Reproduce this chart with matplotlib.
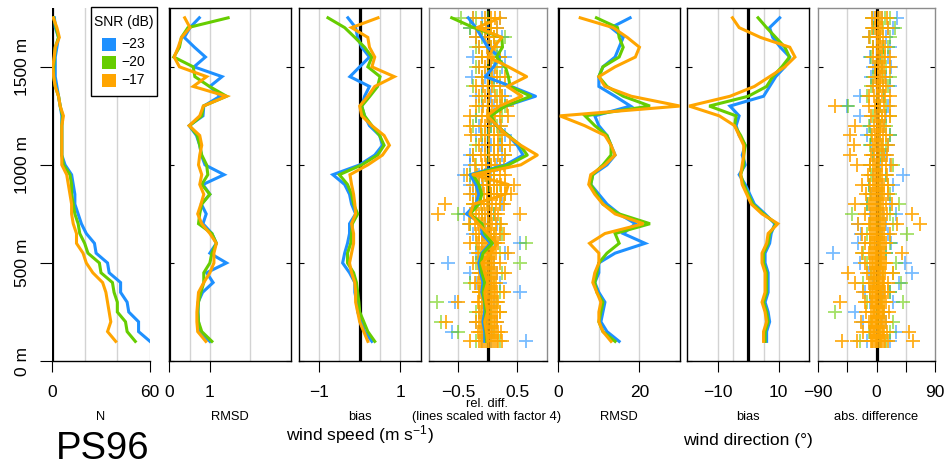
import matplotlib
matplotlib.use("Agg")
import matplotlib.pyplot as plt
from matplotlib.patches import Rectangle

plt.rcParams['font.family'] = ['Liberation Sans', 'DejaVu Sans']
plt.rcParams['mathtext.fontset'] = 'custom'
plt.rcParams['mathtext.rm'] = 'Liberation Sans'
plt.rcParams['mathtext.it'] = 'Liberation Sans:italic'
plt.rcParams['mathtext.bf'] = 'Liberation Sans:bold'

# ---------------- data ----------------
heights = [100, 150, 200, 250, 300, 350, 400, 450, 500, 550, 600, 650, 700, 750, 800, 850, 900,
           950, 1000, 1050, 1100, 1150, 1200, 1250, 1300, 1350, 1400, 1450, 1500, 1550, 1600,
           1650, 1700, 1750]
snr_labels = ["\u221223", "\u221220", "\u221217"]
colors = ["#1E90FF", "#66CD00", "#FFA500"]

# N (number of samples)
n_m23 = [60, 53, 53, 47, 46, 42, 42, 35, 34, 27, 26, 21, 18, 16, 14, 14, 13, 12, 8, 6, 6, 6, 6, 6, 5, 4, 3, 2, 2, 2, 3, 4, 2, 1.5]
n_m20 = [51, 46, 45, 40, 40, 38, 37, 30, 29, 22, 20, 17, 16, 14, 13, 12, 12, 11, 7, 6, 6, 6, 6, 6.5, 5, 4, 2, 1, 1, 1.5, 2, 4, 2.5, 1]
n_m17 = [39, 34, 36, 35, 34, 33, 31, 25, 21, 19, 15, 15, 13, 12, 12, 11, 10, 9, 6, 6, 6, 6, 6, 7, 5, 4, 2, 1, 0.5, 1.3, 2, 4.5, 3, 0.8]

# wind speed RMSD (m/s)
ws_rmsd_m23 = [1.0, 0.75, 0.72, 0.71, 0.71, 0.82, 1.08, 0.92, 1.41, 1.0, 1.16, 1.05, 0.83, 0.91, 0.79, 1.0, 0.83,
               1.35, 0.88, 0.79, 0.75, 0.67, 0.49, 0.83, 0.85, 1.25, 1.0, 1.30, 0.61, 0.89, 0.62, 0.37, 0.51, 0.74]
ws_rmsd_m20 = [1.05, 0.8, 0.72, 0.7, 0.72, 0.78, 0.85, 0.85, 1.0, 1.05, 1.16, 1.05, 0.72, 0.75, 0.8, 1.0, 0.8,
               0.95, 0.92, 0.8, 0.75, 0.69, 0.5, 0.8, 0.84, 1.41, 0.99, 0.63, 0.59, 0.11, 0.25, 0.3, 0.46, 1.45]
ws_rmsd_m17 = [0.9, 0.7, 0.68, 0.68, 0.7, 0.72, 0.85, 1.0, 1.1, 1.1, 1.16, 1.0, 0.8, 0.7, 0.78, 0.85, 0.75,
               0.8, 0.72, 0.75, 0.8, 0.75, 0.49, 0.75, 0.84, 1.41, 0.59, 0.92, 0.25, 0.12, 0.22, 0.3, 0.51, 0.38]

# wind speed bias (m/s)
ws_bias_m23 = [0.3, 0.12, 0.05, -0.05, -0.07, -0.12, -0.12, -0.25, -0.42, -0.37, -0.3, -0.25, -0.25, -0.1, -0.2,
               -0.25, -0.37, -0.66, 0.0, 0.37, 0.56, 0.49, 0.24, 0.12, 0.05, 0.12, 0.24, -0.24, 0.0, 0.24, 0.05,
               -0.05, -0.1, -0.29]
ws_bias_m20 = [0.37, 0.2, 0.1, 0.0, -0.02, -0.05, -0.08, -0.15, -0.3, -0.3, -0.22, -0.2, -0.18, -0.05, -0.15,
               -0.2, -0.3, -0.5, 0.05, 0.44, 0.6, 0.49, 0.3, 0.12, 0.05, 0.25, 0.44, 0.5, 0.2, 0.3, 0.12,
               -0.12, -0.37, -0.78]
ws_bias_m17 = [0.2, 0.1, 0.0, -0.05, -0.1, -0.1, -0.12, -0.2, -0.25, -0.2, -0.15, -0.15, -0.2, -0.1, -0.12,
               -0.15, -0.2, -0.24, 0.2, 0.56, 0.73, 0.6, 0.3, 0.05, 0.0, 0.2, 0.37, 0.85, 0.3, 0.37, 0.24,
               0.2, -0.2, 0.45]

# wind speed relative difference (lines scaled with factor 4)
ws_rel_m23 = [-0.05, -0.05, -0.08, -0.05, -0.05, -0.1, -0.08, -0.12, -0.15, -0.1, 0.05, -0.1, -0.1, -0.36, -0.2,
              -0.15, -0.2, -0.3, 0.3, 0.6, 0.5, 0.35, 0.15, 0.0, 0.3, 0.81, 0.4, -0.04, 0.1, 0.2, 0.0, -0.1,
              -0.2, -0.33]
ws_rel_m20 = [-0.02, -0.03, -0.05, -0.03, -0.05, -0.08, -0.05, -0.1, -0.12, -0.08, 0.08, -0.05, -0.1, -0.3, -0.15,
              -0.1, -0.15, -0.25, 0.35, 0.67, 0.55, 0.35, 0.15, 0.05, 0.3, 0.73, 0.38, 0.35, 0.3, 0.15, 0.25,
              0.24, -0.24, -0.61]
ws_rel_m17 = [0.0, -0.02, -0.05, 0.0, -0.03, -0.05, 0.0, -0.05, -0.1, 0.05, 0.16, 0.0, -0.16, -0.3, -0.24,
              0.3, 0.35, -0.25, 0.56, 0.84, 0.56, 0.33, 0.16, -0.01, 0.2, 0.58, 0.33, 0.66, 0.35, 0.01, 0.1,
              0.24, -0.18, 0.21]

# individual relative differences (crosses), one row per height
ws_relx_m23 = [[-0.1, 0.05, 0.65], [-0.6, -0.1, 0.08], [-0.2, 0.0, 0.15], [-0.15, 0.05], [-0.55, -0.1, 0.1],
               [-0.1, 0.0, 0.55], [-0.2, 0.05, 0.2], [-0.3, 0.0, 0.15], [-0.67, -0.1, 0.1], [-0.2, 0.05, 0.3],
               [-0.1, 0.1, 0.55], [-0.25, 0.0, 0.2], [-0.3, -0.05, 0.15], [-0.4, -0.1, 0.1], [-0.2, 0.0, 0.25],
               [-0.25, 0.05, 0.15], [-0.3, -0.1, 0.1], [-0.4, -0.15, 0.05], [-0.3, 0.0, 0.15], [-0.3, 0.1, 0.25],
               [-0.1, 0.05, 0.2], [-0.2, 0.0, 0.3], [-0.15, 0.05, 0.2], [-0.2, 0.0, 0.1], [-0.1, 0.1, 0.2],
               [-0.2, 0.05, 0.3], [-0.1, 0.0, 0.2], [-0.27, -0.05, 0.1], [-0.15, 0.05, 0.25], [-0.25, 0.15, 0.3],
               [-0.15, 0.0, 0.1], [-0.2, -0.05, 0.25], [-0.3, 0.0, 0.15], [-0.25, -0.1, 0.2]]
ws_relx_m20 = [[-0.2, 0.0, 0.2], [-0.5, -0.05, 0.1], [-0.8, -0.1, 0.05], [-0.2, 0.05, 0.2], [-0.86, -0.05, 0.15],
               [-0.15, 0.05, 0.2], [-0.3, 0.0, 0.1], [-0.1, 0.05, 0.25], [-0.2, 0.0, 0.55], [-0.15, 0.05, 0.2],
               [-0.2, 0.0, 0.65], [-0.1, 0.1, 0.25], [-0.3, 0.0, 0.2], [-0.5, -0.1, 0.1], [-0.25, 0.0, 0.2],
               [-0.2, 0.05, 0.3], [-0.15, 0.0, 0.2], [-0.3, -0.05, 0.1], [-0.2, 0.05, 0.2], [-0.25, 0.0, 0.3],
               [-0.2, 0.1, 0.25], [-0.1, 0.0, 0.2], [-0.25, 0.05, 0.15], [-0.2, 0.1, 0.25], [-0.15, 0.0, 0.3],
               [-0.1, 0.15, 0.25], [-0.25, 0.0, 0.1], [-0.1, 0.05, 0.2], [-0.2, 0.0, 0.15], [-0.1, 0.1, 0.2],
               [-0.2, 0.05, 0.15], [-0.1, 0.1, 0.3], [-0.3, -0.1, 0.05], [-0.45, -0.2, 0.0]]
ws_relx_m17 = [[-0.3, -0.15, -0.12, -0.09, -0.06, -0.03, 0.0, 0.03, 0.06, 0.09, 0.12, 0.15, 0.18, 0.25],
               [-0.16, -0.13, -0.1, -0.07, -0.04, -0.01, 0.02, 0.05, 0.08, 0.11, 0.14, 0.17, 0.22],
               [-0.7, -0.2, -0.14, -0.11, -0.08, -0.05, -0.02, 0.01, 0.04, 0.07, 0.1, 0.13, 0.16],
               [-0.15, -0.12, -0.09, -0.06, -0.03, 0.0, 0.03, 0.06, 0.09, 0.12, 0.15, 0.2],
               [-0.5, -0.17, -0.14, -0.1, -0.07, -0.04, -0.01, 0.02, 0.05, 0.08, 0.11, 0.14, 0.17],
               [-0.14, -0.11, -0.08, -0.05, -0.02, 0.01, 0.04, 0.07, 0.1, 0.13, 0.16, 0.28],
               [-0.22, -0.16, -0.13, -0.1, -0.07, -0.04, -0.01, 0.02, 0.05, 0.08, 0.11, 0.14],
               [-0.15, -0.12, -0.09, -0.06, -0.03, 0.0, 0.03, 0.06, 0.09, 0.12, 0.15, 0.3],
               [-0.25, -0.17, -0.13, -0.1, -0.07, -0.04, -0.01, 0.02, 0.05, 0.08, 0.11, 0.2],
               [-0.16, -0.12, -0.08, -0.05, -0.02, 0.01, 0.04, 0.07, 0.1, 0.14, 0.35],
               [-0.3, -0.18, -0.14, -0.1, -0.06, -0.03, 0.0, 0.04, 0.08, 0.12, 0.17],
               [-0.2, -0.14, -0.1, -0.06, -0.02, 0.02, 0.06, 0.1, 0.14, 0.2, 0.28],
               [-0.32, -0.22, -0.17, -0.12, -0.08, -0.04, 0.0, 0.04, 0.08, 0.14, 0.22],
               [-0.85, -0.3, -0.2, -0.14, -0.09, -0.04, 0.01, 0.06, 0.12, 0.18, 0.55],
               [-0.72, -0.25, -0.18, -0.12, -0.07, -0.02, 0.03, 0.08, 0.14, 0.2, 0.28],
               [-0.3, -0.2, -0.13, -0.07, -0.01, 0.05, 0.1, 0.16, 0.22, 0.3, 0.4],
               [-0.25, -0.15, -0.08, -0.02, 0.04, 0.1, 0.16, 0.22, 0.3, 0.45],
               [-0.35, -0.18, -0.1, -0.03, 0.04, 0.1, 0.2, 0.3],
               [-0.22, -0.1, -0.03, 0.05, 0.12, 0.2, 0.28],
               [-0.25, -0.12, -0.04, 0.03, 0.1, 0.18, 0.3],
               [-0.15, -0.05, 0.03, 0.1, 0.18, 0.25, 0.38],
               [-0.28, -0.12, -0.04, 0.03, 0.1, 0.18, 0.25],
               [-0.3, -0.12, -0.04, 0.03, 0.1, 0.22],
               [-0.3, -0.1, -0.02, 0.05, 0.12, 0.2, 0.35],
               [-0.2, -0.08, 0.0, 0.08, 0.15, 0.22, 0.32],
               [-0.15, -0.05, 0.03, 0.12, 0.2, 0.25],
               [-0.2, -0.08, 0.0, 0.08, 0.2],
               [-0.1, 0.0, 0.08, 0.15, 0.3],
               [-0.15, -0.05, 0.05, 0.12],
               [-0.1, 0.0, 0.08, 0.2],
               [-0.15, -0.02, 0.06, 0.12],
               [-0.2, -0.05, 0.03, 0.1],
               [-0.12, -0.03, 0.06, 0.15],
               [-0.25, -0.05, 0.05, 0.12, 0.2]]

# wind direction RMSD (deg)
wd_rmsd_m23 = [15, 12, 10.5, 11, 11.5, 10, 9, 10, 10, 14, 21.4, 16, 19, 15, 12, 10, 8, 8.5, 12, 14, 13, 12, 10,
               9, 17.8, 14, 10, 10, 11, 14, 15, 16, 13, 17.7]
wd_rmsd_m20 = [14, 11, 10, 10.5, 11, 9.5, 9, 9.5, 10, 12, 15, 14, 22.6, 15, 11, 9.5, 8, 8.5, 11, 13, 13, 12, 9,
               6.6, 22.6, 16, 12, 10, 11, 15, 16, 15, 14.6, 9.4]
wd_rmsd_m17 = [13, 11, 10, 10, 10.5, 9.5, 8.5, 9, 10, 10, 7.7, 11.5, 21, 14, 11, 9, 7.5, 8, 11.5, 14, 13, 11.5,
               6.5, 0.4, 30, 18, 11.5, 10, 14, 19, 20, 17, 13.5, 5.4]

# wind direction bias (deg)
wd_bias_m23 = [6, 6, 7, 6.5, 5.5, 6.5, 6.5, 6.5, 5.5, 5.5, 7, 7.5, 8.7, 5.5, 2, 0.5, -1, -3, -1, -2, -1, -3, -4,
               -3, -6, 5, 7, 9, 12, 13.6, 10.5, 8, 7, 10.3]
wd_bias_m20 = [5.5, 5.5, 6.5, 6, 5, 6, 6, 6, 5, 5, 6.5, 7, 9.2, 5, 1.5, 0, -1.5, -2.5, -1.5, -1.5, -1, -2.5,
               -4.5, -4, -12.8, 0, 6, 8, 11, 13.5, 12, 9, 6, 3.2]
wd_bias_m17 = [5, 5, 6, 5.5, 4.5, 5.5, 5.5, 5.5, 4.5, 4.5, 6, 6.5, 9.7, 4.5, 1, -0.5, -2, -2.5, -2, -1.5, -1.5,
               -3, -4.5, -9.5, -19.4, -6, 2, 7, 12, 15.3, 13.6, 4, -3, -5.2]

# individual absolute wind direction differences (crosses), one row per height
wd_absx_m23 = [[-15, 5, 20], [-10, 0, 30], [-20, 8, 15], [-33, 0, 12], [-10, 5, 25], [-18, 10, 20],
               [-5, 10, 34], [-12, 5, 54], [-25, 0, 44], [-66, 5, 15], [-28, 0, 22], [-23, 8, 18], [-28, 5, 15],
               [-10, 10, 30], [-15, 0, 20], [-8, 5, 18], [-12, 8, 25], [-5, 15, 40], [-10, 5, 20], [-5, 8, 15],
               [-8, 3, 18], [-15, 5, 20], [-10, 5, 12], [-25, 0, 15], [-45, 5, 18], [-25, 3, 12], [-5, 10, 20],
               [-8, 5, 15], [-5, 8, 22], [-10, 6, 18], [-5, 10, 20], [-12, 5, 15], [-6, 18, 25], [-5, 8, 31]]
wd_absx_m20 = [[-25, 5, 15], [-12, 5, 20], [-8, 3, 25], [-63, 0, 10], [-15, 8, 41], [-10, 5, 20],
               [-20, 0, 38], [-8, 10, 25], [-15, 5, 30], [-20, 0, 15], [-10, 5, 20], [-15, 5, 46], [-10, 0, 25],
               [-38, 5, 20], [-15, 5, 35], [-10, 8, 20], [-12, 3, 18], [-8, 5, 15], [-10, 3, 25], [-5, 5, 12],
               [-10, 8, 15], [-8, 3, 20], [-12, 5, 15], [-6, 8, 20], [-43, 5, 15], [-15, 0, 12], [-8, 5, 18],
               [-5, 10, 20], [-3, 8, 15], [-8, 5, 12], [-5, 10, 18], [-10, 6, 20], [-5, 10, 28], [-7, 13, 20]]
wd_absx_m17 = [[-53, -30, -9, -7, -5, -3, -1, 1, 3, 5, 7, 9, 11, 13, 18, 56],
               [-20, -10, -8, -6, -4, -2, 0, 2, 4, 6, 8, 10, 12, 16, 49],
               [-24, -12, -9, -7, -5, -3, -1, 1, 3, 5, 7, 9, 11, 14],
               [-16, -8, -6, -4, -2, 0, 2, 4, 6, 8, 10, 12, 19],
               [-56, -17, -9, -7, -5, -3, -1, 1, 3, 5, 7, 9, 11, 14],
               [-20, -10, -7, -5, -3, -1, 1, 3, 5, 7, 9, 11, 13, 18],
               [-33, -12, -8, -6, -4, -2, 0, 2, 4, 6, 8, 10, 12, 17],
               [-43, -14, -9, -6, -4, -2, 0, 2, 4, 6, 8, 10, 13, 25],
               [-18, -10, -7, -5, -3, -1, 1, 3, 5, 7, 9, 12, 15],
               [-22, -11, -8, -5, -3, -1, 1, 3, 5, 7, 9, 12, 39],
               [-18, -10, -7, -4, -2, 0, 2, 4, 6, 9, 12, 15],
               [-22, -10, -7, -4, -1, 1, 3, 6, 9, 12, 20],
               [-28, -12, -8, -5, -2, 1, 4, 7, 10, 13, 31, 67],
               [-17, -9, -6, -3, 0, 3, 6, 9, 12, 16, 54],
               [-33, -12, -8, -5, -2, 1, 4, 7, 10, 14, 24],
               [-16, -9, -6, -3, 0, 3, 6, 9, 12, 17],
               [-22, -10, -6, -3, 0, 3, 6, 9, 12, 18],
               [-13, -6, -3, 0, 3, 6, 9, 16],
               [-30, -10, -5, -2, 1, 4, 8, 14, 22],
               [-40, -8, -4, 0, 4, 8, 12, 16],
               [-35, -5, -2, 1, 4, 7, 10, 18],
               [-40, -7, -3, 0, 3, 6, 10, 15],
               [-33, -4, 0, 3, 6, 9, 12],
               [-8, -3, 1, 4, 8, 13, 20],
               [-64, -12, -2, 2, 6, 12, 21],
               [-12, -4, 0, 4, 8, 13, 20],
               [-5, 0, 3, 6, 10, 15],
               [-3, 2, 5, 8, 13],
               [-3, 2, 5, 8, 12, 21],
               [-5, 0, 4, 8, 13, 21],
               [-5, 0, 3, 6, 9, 13],
               [-12, 0, 3, 6, 10],
               [-7, -2, 2, 5, 9, 18],
               [-7, -2, 2, 5, 9, 16]]

# ---------------- figure ----------------
W, H = 949, 471
fig = plt.figure(figsize=(W / 100, H / 100), dpi=100)

Y_TOP, Y_BOT = 8, 361


def add_panel(x0, x1):
    return fig.add_axes([x0 / W, 1 - Y_BOT / H, (x1 - x0) / W, (Y_BOT - Y_TOP) / H])


panels = [
    dict(x=(52, 150), xlim=(0, 60), grid=[20, 40, 60], ticks=[0, 60], labels=["0", "60"]),
    dict(x=(169.3, 291), xlim=(0, 3), grid=[0.5, 1, 2], ticks=[0, 1], labels=["0", "1"]),
    dict(x=(298.7, 420.7), xlim=(-1.5, 1.5), grid=[-1, -0.5, 0.5, 1], ticks=[-1, 1], labels=["\u22121", "1"]),
    dict(x=(428.7, 546.7), xlim=(-1, 1), grid=[-0.5, 0.5], ticks=[-0.5, 0.5], labels=["\u22120.5", "0.5"]),
    dict(x=(558.3, 680), xlim=(0, 30), grid=[10, 20], ticks=[0, 20], labels=["0", "20"]),
    dict(x=(687.3, 809.3), xlim=(-20, 20), grid=[-10, -5, 5, 10], ticks=[-10, 10], labels=["\u221210", "10"]),
    dict(x=(817.7, 935.3), xlim=(-90, 90), grid=[-45, 45], ticks=[-90, -45, 0, 45, 90],
         labels=["\u221290", "", "0", "", "90"]),
]

axes = []
for i, p in enumerate(panels):
    ax = add_panel(*p["x"])
    ax.set_xlim(*p["xlim"])
    ax.set_ylim(0, 1800)
    for g in p["grid"]:
        ax.axvline(g, color="#D3D3D3", lw=1.0, zorder=1)
    ax.axvline(0, color="black", lw=2.3, zorder=2)
    ax.set_xticks(p["ticks"])
    ax.set_xticklabels(p["labels"])
    ax.tick_params(axis="x", direction="out", length=8, width=0.8, pad=9, labelsize=12.5)
    ax.set_yticks([0, 500, 1000, 1500])
    if i == 0:
        ax.set_yticklabels(["0 m", "500 m", "1000 m", "1500 m"], rotation=90, va="center")
        ax.tick_params(axis="y", direction="out", length=8.6, width=0.8, pad=7, labelsize=12.5)
        for s in ["top", "right", "left"]:
            ax.spines[s].set_visible(False)
    else:
        ax.tick_params(axis="y", direction="in", left=True, right=True, length=3.6, width=0.8,
                       labelleft=False)
    for s in ax.spines.values():
        s.set_linewidth(1.0)
    if i in (3, 6):
        for s in ["top", "left", "right"]:
            ax.spines[s].set_color("#8C8C8C")
    axes.append(ax)

line_sets = [
    (axes[0], [n_m23, n_m20, n_m17]),
    (axes[1], [ws_rmsd_m23, ws_rmsd_m20, ws_rmsd_m17]),
    (axes[2], [ws_bias_m23, ws_bias_m20, ws_bias_m17]),
    (axes[4], [wd_rmsd_m23, wd_rmsd_m20, wd_rmsd_m17]),
    (axes[5], [wd_bias_m23, wd_bias_m20, wd_bias_m17]),
]
for ax, series in line_sets:
    for vals, c in zip(series, colors):
        ax.plot(vals, heights, color=c, lw=2.2, solid_joinstyle="miter", zorder=4)

# cross panels
alphas = [0.6, 0.6, 0.9]
for ax, sets in [(axes[3], [ws_relx_m23, ws_relx_m20, ws_relx_m17]),
                 (axes[6], [wd_absx_m23, wd_absx_m20, wd_absx_m17])]:
    for rows, c, a in zip(sets, colors, alphas):
        xs, ys = [], []
        for h, row in zip(heights, rows):
            xs.extend(row)
            ys.extend([h] * len(row))
        ax.plot(xs, ys, linestyle="none", marker="+", markersize=9.5, mew=1.3, color=c, alpha=a,
                zorder=3)

for vals, c in zip([ws_rel_m23, ws_rel_m20, ws_rel_m17], colors):
    axes[3].plot(vals, heights, color=c, lw=2.2, zorder=4)


def px(x, y):
    return x / W, 1 - y / H


# legend (drawn in figure pixel positions)
lx0, ly0, lx1, ly1 = 91, 7, 157, 96
fig.patches.append(Rectangle(px(lx0, ly1), (lx1 - lx0) / W, (ly1 - ly0) / H, transform=fig.transFigure,
                             facecolor="white", edgecolor="black", lw=1.0, zorder=10))
fig.text(*px(124, 22), "SNR (dB)", ha="center", va="center", fontsize=10, zorder=11)
for k, (lab, c) in enumerate(zip(snr_labels, colors)):
    yc = 44 + 18 * k
    fig.patches.append(Rectangle(px(102, yc + 6.5), 13.5 / W, 13 / H, transform=fig.transFigure,
                                 facecolor=c, edgecolor="none", zorder=11))
    fig.text(*px(121, yc), lab, ha="left", va="center", fontsize=10, zorder=11)


def ftext(x, y, s, **kw):
    fig.text(*px(x, y), s, ha="center", va="center", **kw)


ftext(101, 417, "N", fontsize=9.3)
ftext(230, 417, "RMSD", fontsize=9.3)
ftext(360, 417, "bias", fontsize=9.3)
ftext(487, 404, "rel. diff.", fontsize=9.3)
ftext(487, 417, "(lines scaled with factor 4)", fontsize=9.3)
ftext(619, 417, "RMSD", fontsize=9.3)
ftext(748, 417, "bias", fontsize=9.3)
ftext(876, 417, "abs. difference", fontsize=9.3)
ftext(360, 435, "wind speed (m s$^{\u22121}$)", fontsize=12.5)
ftext(748, 441, "wind direction (\u00b0)", fontsize=12.5)
ftext(103, 449, "PS96", fontsize=27.5)

fig.savefig("out.png", dpi=100)
